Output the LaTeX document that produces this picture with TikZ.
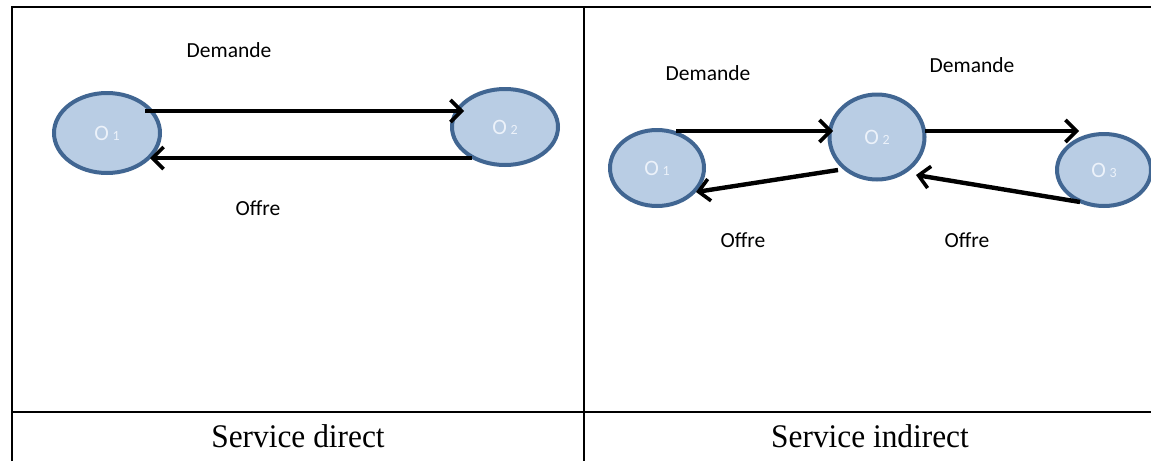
\documentclass[tikz,border=0pt]{standalone}
\usepackage{fontspec}
\setmainfont{Liberation Serif}
\newfontfamily\labelfont{Carlito}
\usetikzlibrary{arrows.meta,shapes.geometric}
\definecolor{nodefill}{RGB}{185,205,228}
\definecolor{nodeline}{RGB}{65,102,146}
\definecolor{nodetext}{RGB}{236,242,250}
\tikzset{
  obj/.style={ellipse, draw=nodeline, fill=nodefill, line width=4pt,
    inner sep=0pt},
  flow/.style={line width=4.4pt, -{Straight Barb[length=11pt,width=22pt,line width=3.6pt]}},
  lbl/.style={font=\labelfont\fontsize{21.5}{24}\selectfont, text=black},
  caption/.style={font=\fontsize{33}{38}\selectfont},
  grid/.style={line width=2pt}
}
\newcommand{\objlabel}[1]{\textcolor{nodetext}{\labelfont\fontsize{22}{24}\selectfont O\,{\fontsize{14}{16}\selectfont #1}}}
\begin{document}
\begin{tikzpicture}[x=1pt,y=-1pt]
\useasboundingbox (0,0) rectangle (1151,461);
% table frame
\draw[grid] (12,461) -- (12,7) -- (1151,7);
\draw[grid] (584,7) -- (584,461);
\draw[grid] (12,412) -- (1151,412);
\node[caption] (capA) at (298,436) {\scalebox{0.95}[1]{Service direct}};
\node[caption] (capB) at (870,436) {\scalebox{0.95}[1]{Service indirect}};

% direct service
\node[obj, minimum width=106pt, minimum height=80pt] (a1) at (107,133) {\objlabel{1}};
\node[obj, minimum width=106pt, minimum height=76pt] (a2) at (505,127) {\objlabel{2}};
\coordinate (a1r) at (145,111);
\coordinate (a2l) at (464,111);
\coordinate (a2b) at (472,158);
\coordinate (a1b) at (150,158);
\draw[flow] (a1r) -- (a2l);
\draw[flow] (a2b) -- (a1b);
\node[lbl] (dA) at (229,50) {Demande};
\node[lbl] (oA) at (258,208) {Offre};

% indirect service
\node[obj, minimum width=94pt, minimum height=76pt] (b1) at (657,168) {\objlabel{1}};
\node[obj, minimum width=95pt, minimum height=85pt] (b2) at (877,137) {\objlabel{2}};
\node[obj, minimum width=94pt, minimum height=72pt] (b3) at (1104,170) {\objlabel{3}};
\coordinate (b1t) at (676,131);
\coordinate (b2l) at (833,131);
\coordinate (b2r) at (925,131);
\coordinate (b3t) at (1079,131);
\coordinate (b3b) at (1080,202);
\coordinate (b2b) at (916,175);
\coordinate (b2bl) at (838,170);
\coordinate (b1r) at (696,192);
\draw[flow] (b1t) -- (b2l);
\draw[flow] (b2bl) -- (b1r);
\draw[flow] (b2r) -- (b3t);
\draw[flow] (b3b) -- (b2b);
\node[lbl] (dB1) at (708,73) {Demande};
\node[lbl] (dB2) at (972,65) {Demande};
\node[lbl] (oB1) at (743,240) {Offre};
\node[lbl] (oB2) at (967,240) {Offre};
\end{tikzpicture}
\end{document}
